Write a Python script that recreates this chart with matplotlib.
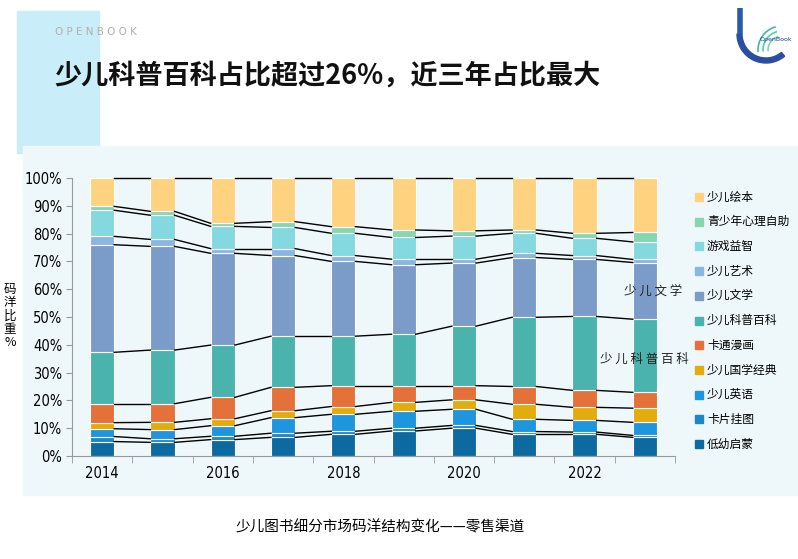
import numpy as np
import matplotlib.pyplot as plt
from matplotlib.patches import Rectangle, Wedge, Arc

plt.rcParams['font.family'] = ['Noto Sans CJK SC', 'DejaVu Sans']

# data (share of retail sales, %)
years = [2014, 2015, 2016, 2017, 2018, 2019, 2020, 2021, 2022, 2023]
year_labels = ['2014', '', '2016', '', '2018', '', '2020', '', '2022', '']

early = [5.2, 4.9, 5.9, 6.7, 7.8, 9.0, 10.0, 7.8, 7.8, 6.7]
cards = [1.8, 1.3, 1.2, 1.5, 1.1, 1.0, 1.0, 1.0, 0.8, 0.7]
english = [2.8, 3.3, 3.8, 5.6, 6.1, 6.1, 5.8, 4.4, 4.2, 4.7]
classics = [2.2, 2.6, 2.5, 2.5, 2.8, 3.2, 3.4, 5.4, 4.7, 5.1]
cartoon = [6.8, 6.7, 7.7, 8.4, 7.5, 6.0, 5.1, 6.4, 6.1, 5.7]
science = [18.5, 19.3, 18.8, 18.4, 17.8, 18.5, 21.4, 24.9, 26.6, 26.3]
literature = [38.7, 37.3, 33.0, 29.0, 26.9, 25.0, 22.7, 21.5, 20.5, 20.4]
art = [3.0, 2.5, 1.7, 2.5, 2.1, 2.0, 1.4, 1.5, 1.4, 1.1]
games = [9.4, 8.7, 8.0, 7.6, 8.0, 7.8, 8.3, 7.2, 6.2, 6.3]
psych = [1.4, 1.4, 1.1, 2.1, 2.4, 2.7, 1.9, 1.2, 1.8, 3.4]
picture = [10.2, 12.0, 16.3, 15.7, 17.5, 18.7, 19.0, 18.7, 19.9, 19.6]

series = [early, cards, english, classics, cartoon, science,
          literature, art, games, psych, picture]
names = ['低幼启蒙', '卡片挂图', '少儿英语', '少儿国学经典', '卡通漫画', '少儿科普百科',
         '少儿文学', '少儿艺术', '游戏益智', '青少年心理自助', '少儿绘本']
colors = ['#0D6AA0', '#1C87C2', '#1E96DE', '#E1AC0C', '#E4703A', '#4AB3AE',
          '#7B9CC8', '#8CB6E2', '#84D8E0', '#86D6B2', '#FFD27F']

W, H = 798, 559
fig = plt.figure(figsize=(W / 100, H / 100), dpi=100)

# decorative blocks (behind everything)
fig.patches.append(Rectangle((17 / W, 1 - 153 / H), 82 / W, 142 / H,
                             color='#C9EEF9', transform=fig.transFigure, zorder=-2))
fig.patches.append(Rectangle((23 / W, 1 - 495 / H), (W - 23) / W, (495 - 146) / H,
                             color='#EEF8FA', transform=fig.transFigure, zorder=-1))

fig.text(55 / W, 1 - 32 / H, 'O P E N B O O K', fontsize=7.5, color='#B0B0B0',
         va='center', family=['DejaVu Sans'])
fig.text(54 / W, 1 - 76 / H, '少儿科普百科占比超过26%，近三年占比最大', fontsize=19.5,
         fontweight='bold', va='center', color='#111111')

# logo
lax = fig.add_axes([720 / W, 1 - 95 / H, 78 / W, 95 / H])
lax.set_xlim(720, 798)
lax.set_ylim(95, 0)
lax.axis('off')
lax.plot([739.5, 739.5], [8, 34], color='#2A5BA8', lw=4, solid_capstyle='butt')
lax.add_patch(Wedge((766, 34), 29, 50, 180, width=5, color='#2A4FA0'))
for r, c in [(24, '#3FB8B0'), (19, '#5CC7B8'), (14, '#7AD3C4')]:
    lax.add_patch(Arc((782, 50), 2 * r, 2 * r, theta1=175, theta2=255, color=c, lw=1.2))
lax.text(776, 40, 'OpenBook', fontsize=4.5, color='#1F3F7A', ha='center', va='center',
         family=['DejaVu Sans'])

ax = fig.add_axes([72 / W, 1 - 456 / H, 603 / W, 278 / H])
ax.set_facecolor('none')

x = np.arange(len(years))
bw = 0.4
bottom = np.zeros(len(years))
for vals, col in zip(series, colors):
    vals = np.array(vals)
    ax.bar(x, vals, bw, bottom=bottom, color=col, edgecolor='white', linewidth=0.8, zorder=2)
    bottom = bottom + vals
    for i in range(len(x) - 1):
        ax.plot([x[i] + bw / 2, x[i + 1] - bw / 2], [bottom[i], bottom[i + 1]],
                color='black', lw=1, zorder=3, clip_on=False)

ax.set_xlim(-0.5, len(years) - 0.5)
ax.set_ylim(0, 100)
ax.set_yticks(np.arange(0, 101, 10))
ax.set_yticklabels([f'{v}%' for v in range(0, 101, 10)], fontsize=10.5,
                   family='DejaVu Sans', fontstretch='condensed')
ax.set_xticks(x)
ax.set_xticklabels(year_labels, fontsize=10.5, family='DejaVu Sans', fontstretch='condensed')
ax.set_xticks(np.arange(-0.5, len(years), 1), minor=True)
ax.tick_params(axis='x', which='major', length=0, pad=7)
ax.tick_params(axis='x', which='minor', length=5, color='#999999')
ax.tick_params(axis='y', length=4, color='#999999', pad=3)
for s in ['top', 'right']:
    ax.spines[s].set_visible(False)
for s in ['left', 'bottom']:
    ax.spines[s].set_color('#999999')

ax.text(9.13, 59.4, '少 儿 文 学', fontsize=9, ha='center', va='center', color='#222222', zorder=5)
ax.text(8.99, 34.6, '少 儿 科 普 百 科', fontsize=9, ha='center', va='center', color='#222222', zorder=5)

fig.text(10 / W, 1 - 316 / H, '码\n洋\n比\n重\n%', fontsize=9, ha='center', va='center',
         linespacing=1.05)

# legend, top item first
for k, (lab, col) in enumerate(zip(names[::-1], colors[::-1])):
    yp = 197 + k * 24.7
    fig.patches.append(Rectangle((695 / W, 1 - (yp + 4) / H), 8 / W, 8 / H,
                                 color=col, transform=fig.transFigure))
    fig.text(707 / W, 1 - yp / H, lab, fontsize=8.5, va='center')

fig.text(380 / W, 1 - 527 / H, '少儿图书细分市场码洋结构变化——零售渠道', fontsize=10.5,
         ha='center', va='center')

fig.savefig('out.png', dpi=100)
